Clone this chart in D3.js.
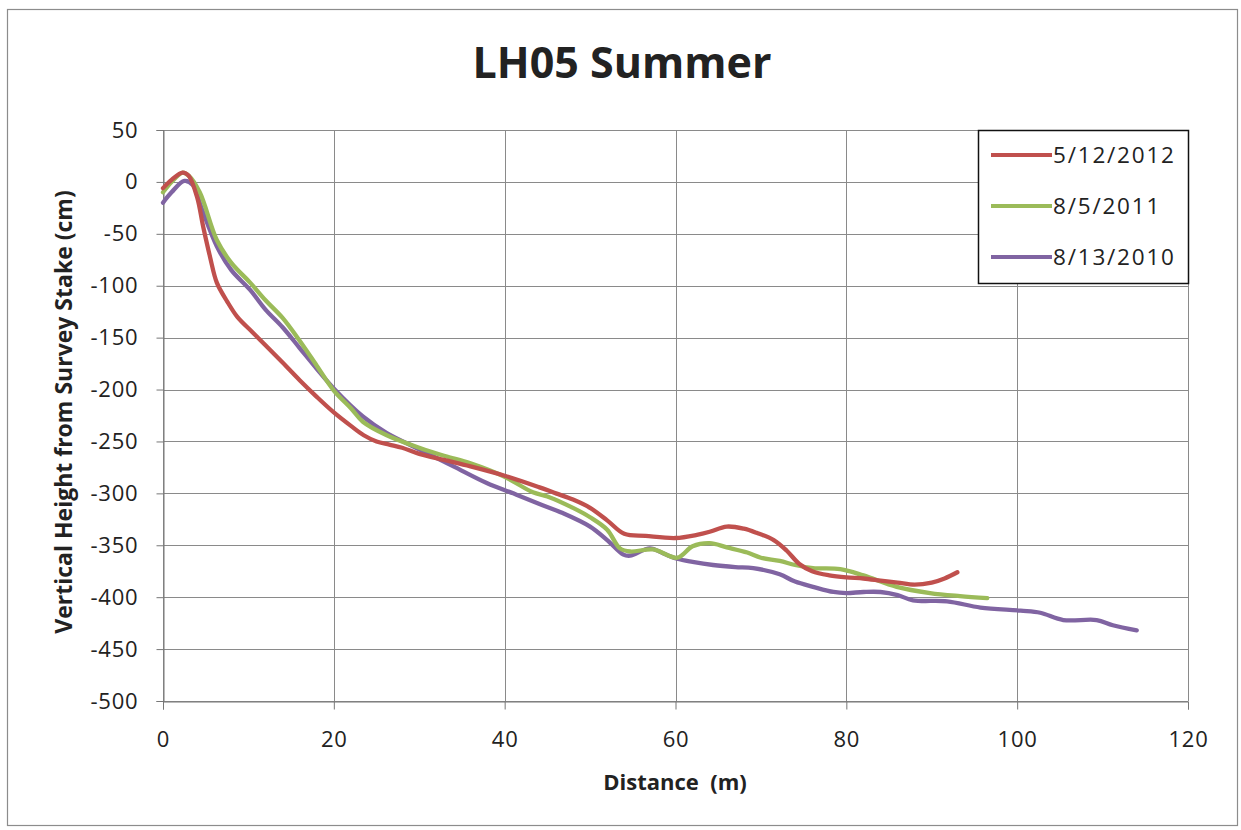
<!DOCTYPE html>
<html>
<head>
<meta charset="utf-8">
<script src="https://cdn.jsdelivr.net/npm/d3@7"></script>
<style>
  html, body { margin: 0; padding: 0; background: #fff; }
  svg { display: block; }
  text { font-family: "Open Sans", Lato, sans-serif; fill: #222; white-space: pre; }
</style>
</head>
<body>
<svg id="chart" width="1241" height="830"></svg>
<script>
const title = "LH05 Summer";
const xTitle = "Distance  (m)";
const yTitle = "Vertical Height from Survey Stake (cm)";
const xTicks = [0, 20, 40, 60, 80, 100, 120];
const yTicks = [50, 0, -50, -100, -150, -200, -250, -300, -350, -400, -450, -500];
const seriesNames = ["5/12/2012", "8/5/2011", "8/13/2010"];
const seriesColors = ["#C0504D", "#9BBB59", "#8064A2"];

const redX = [0, 1, 2.3, 3, 4, 4.7, 5.5, 6.3, 7.5, 8.7, 10.5, 12.2, 14, 16, 18, 20, 22, 23.5, 25, 26.5, 28, 30, 33, 36, 40, 44, 46, 48, 50, 52, 54, 56.5, 60, 62.5, 64, 66, 68, 69.5, 71.5, 73, 74.5, 76, 78, 80, 82, 84, 86, 88, 90, 91.5, 93];
const redY = [-6, 2, 9, 6, -15, -43, -72, -97, -115, -130, -145, -159, -174, -191, -207, -222, -235, -244, -250, -253, -256, -262, -268, -274, -283, -294, -300, -306, -314, -326, -339, -341, -343, -340, -337, -332, -334, -338, -345, -355, -368, -375, -379, -381, -382, -384, -386, -388, -386, -382, -376];

const greenX = [0, 1, 2.3, 3, 4.3, 6.3, 8, 10.2, 12, 14, 16, 18, 20, 22, 23.4, 26.2, 30, 33, 36, 40, 43.3, 45, 48, 50, 52, 53.5, 54.7, 57.4, 60.2, 62, 64, 66, 68.4, 70, 72.2, 74, 76.1, 79.3, 82, 85.9, 89.8, 93.3, 96.5];
const greenY = [-10, 0, 9, 6, -10, -56, -78, -97, -114, -131, -153, -177, -201, -218, -231, -244, -256, -264, -271, -284, -299, -303, -314, -323, -335, -353, -356, -354, -362, -351, -348, -352, -357, -362, -365, -369, -372, -373, -379, -390, -396, -399, -401];

const purpleX = [0, 1, 2.5, 3.5, 4.5, 6.3, 8, 10.2, 12, 14, 16, 18, 20.1, 23.4, 26.2, 30.1, 34, 37.9, 41, 44, 46.8, 50, 52, 53.9, 54.7, 57, 58.6, 60.2, 62, 64.4, 67, 69.1, 72.2, 74, 76.1, 78.5, 80, 82, 84, 86, 87.8, 91.8, 95.7, 100.4, 102.7, 105.4, 109.3, 111.2, 114];
const purpleY = [-20, -10, 1, -3, -25, -62, -85, -104, -123, -140, -160, -180, -200, -226, -242, -258, -274, -290, -300, -310, -319, -332, -345, -359, -360, -353, -358, -363, -366, -369, -371, -372, -378, -385, -390, -395, -396, -395, -395, -398, -403, -404, -410, -413, -415, -422, -422, -427, -432];

const seriesX = [redX, greenX, purpleX];
const seriesY = [redY, greenY, purpleY];

const svg = d3.select("#chart");
const plot = { left: 163, right: 1188, top: 130, bottom: 701 };

// outer frame
svg.append("rect").attr("x", 7.5).attr("y", 9.5).attr("width", 1230).attr("height", 816)
  .attr("fill", "#fff").attr("stroke", "#8c8c8c").attr("stroke-width", 1.2);

const x = d3.scaleLinear().domain([0, 120]).range([plot.left, plot.right]);
const y = d3.scaleLinear().domain([-500, 50]).range([plot.bottom, plot.top]);

// gridlines
const grid = svg.append("g");
grid.selectAll("line.h").data(yTicks).join("line")
  .attr("x1", plot.left).attr("x2", plot.right)
  .attr("y1", d => Math.round(y(d)) + 0.5).attr("y2", d => Math.round(y(d)) + 0.5)
  .attr("stroke", "#8a8a8a").attr("stroke-width", 1);
grid.selectAll("line.v").data(xTicks).join("line")
  .attr("y1", plot.top).attr("y2", plot.bottom)
  .attr("x1", d => Math.round(x(d)) + 0.5).attr("x2", d => Math.round(x(d)) + 0.5)
  .attr("stroke", "#8a8a8a").attr("stroke-width", 1);

// axes
const fmt = d => String(d);
const yAxis = d3.axisLeft(y).tickValues(yTicks).tickSize(7).tickPadding(18).tickFormat(fmt);
const xAxis = d3.axisBottom(x).tickValues(xTicks).tickSize(8).tickPadding(22).tickFormat(fmt);
const gy = svg.append("g").attr("transform", `translate(${Math.round(plot.left) + 0.5},0)`).call(yAxis);
const gx = svg.append("g").attr("transform", `translate(0,${Math.round(plot.bottom) + 0.5})`).call(xAxis);
[gy, gx].forEach(g => {
  g.select(".domain").attr("stroke", "#777");
  g.selectAll(".tick line").attr("stroke", "#777");
  g.selectAll(".tick text").attr("font-size", 22).attr("fill", "#222")
    .attr("letter-spacing", 0.8)
    .attr("font-family", "'Open Sans', Lato, sans-serif");
});

// lines
const line = d3.line().curve(d3.curveCatmullRom.alpha(0.5));
const lines = svg.append("g").attr("fill", "none").attr("stroke-width", 4.3)
  .attr("stroke-linejoin", "round").attr("stroke-linecap", "round");
[2, 1, 0].forEach(i => {
  const pts = seriesX[i].map((d, k) => [x(d), y(seriesY[i][k])]);
  lines.append("path").attr("d", line(pts)).attr("stroke", seriesColors[i]);
});

// title
svg.append("text").attr("x", 622).attr("y", 78).attr("text-anchor", "middle")
  .attr("font-size", 43).attr("font-weight", "bold").attr("fill", "#111").text(title);

// axis titles
svg.append("text").attr("x", 675).attr("y", 790).attr("text-anchor", "middle")
  .attr("font-size", 22).attr("font-weight", "bold").attr("fill", "#222").text(xTitle);
svg.append("text").attr("transform", "translate(72,412) rotate(-90)").attr("text-anchor", "middle")
  .attr("font-size", 23).attr("font-weight", "bold").attr("fill", "#222").text(yTitle);

// legend
const lg = svg.append("g");
lg.append("rect").attr("x", 978.5).attr("y", 130.5).attr("width", 210).attr("height", 153)
  .attr("fill", "#fff").attr("stroke", "#111").attr("stroke-width", 1.5);
const legendY = d3.scalePoint().domain(seriesNames).range([155, 257]);
seriesNames.forEach((n, i) => {
  const yy = legendY(n);
  lg.append("line").attr("x1", 991).attr("x2", 1052).attr("y1", yy).attr("y2", yy)
    .attr("stroke", seriesColors[i]).attr("stroke-width", 4);
  lg.append("text").attr("x", 1053).attr("y", yy + 8).attr("font-size", 22.5)
    .attr("letter-spacing", 1.8).attr("fill", "#222").text(n);
});
</script>
</body>
</html>
